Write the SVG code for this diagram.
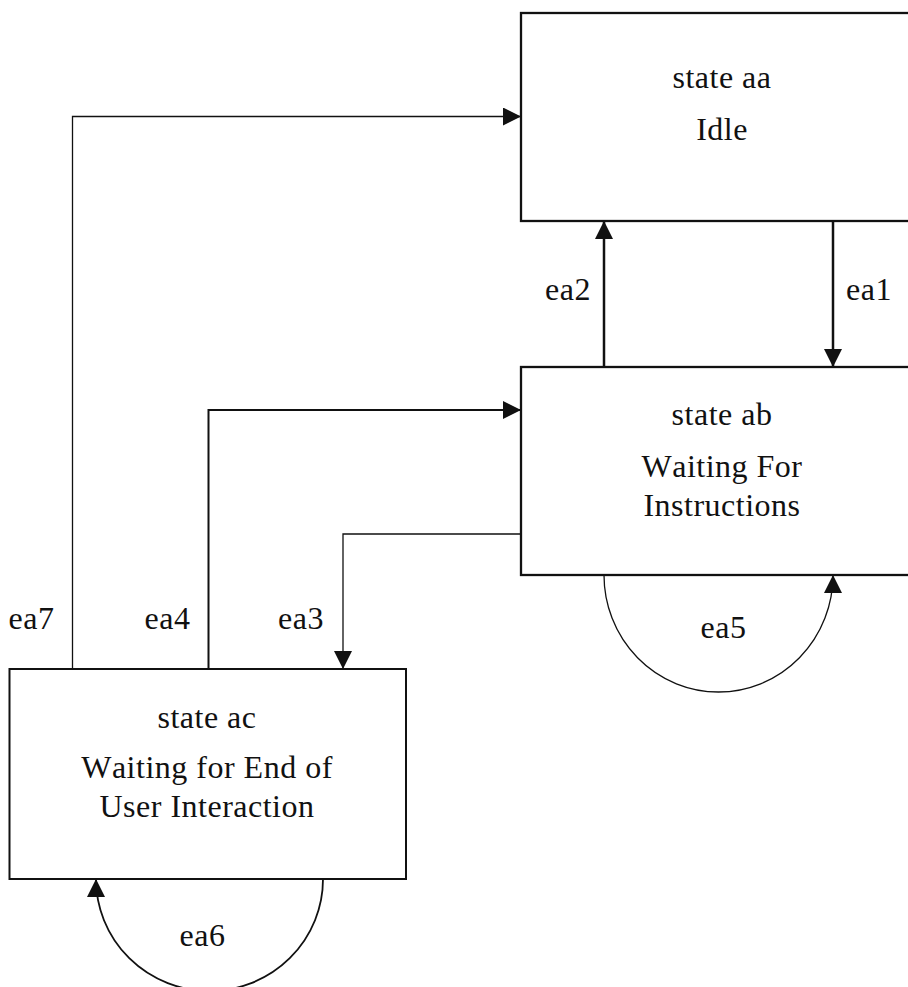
<svg xmlns="http://www.w3.org/2000/svg" width="908" height="987" viewBox="0 0 908 987">
<defs>
<style>
.box{fill:#fff;stroke:#111;}
.t{font-family:"Liberation Serif","Times New Roman",serif;font-size:32px;fill:#111;text-anchor:middle;letter-spacing:0.5px;font-kerning:none;}
.c{fill:none;stroke:#111;}
</style>
<marker id="ah" markerUnits="userSpaceOnUse" markerWidth="18" markerHeight="18" viewBox="0 0 18 18" refX="18" refY="9" orient="auto">
<path d="M0,0 L18,9 L0,18 Z" fill="#111"/>
</marker>
</defs>
<rect width="908" height="987" fill="#fff"/>
<g id="connectors">
<path class="c" stroke-width="1.3" d="M72.5,669 V116.5 H521" marker-end="url(#ah)"/>
<path class="c" stroke-width="2" d="M208.5,669 V410 H521" marker-end="url(#ah)"/>
<path class="c" stroke-width="1.3" d="M521,534 H343 V669" marker-end="url(#ah)"/>
<path class="c" stroke-width="2.5" d="M604,367 V221" marker-end="url(#ah)"/>
<path class="c" stroke-width="2.5" d="M833,221 V367" marker-end="url(#ah)"/>
<path class="c" stroke-width="1.3" d="M604,575 A114.5,117 0 0 0 833,575" marker-end="url(#ah)"/>
<path class="c" stroke-width="1.8" d="M323,879 A113.5,112 0 0 1 96,879" marker-end="url(#ah)"/>
<text class="t" x="31.5" y="629">ea7</text>
<text class="t" x="167.5" y="629">ea4</text>
<text class="t" x="301" y="629">ea3</text>
<text class="t" x="568" y="300">ea2</text>
<text class="t" x="869" y="300">ea1</text>
<text class="t" x="723.5" y="638">ea5</text>
<text class="t" x="202.5" y="946">ea6</text>
</g>
<g id="state-aa">
<rect class="box" stroke-width="2.3" x="521" y="13" width="400" height="208"/>
<text class="t" x="722" y="88">state aa</text>
<text class="t" x="722" y="140">Idle</text>
</g>
<g id="state-ab">
<rect class="box" stroke-width="2.3" x="521" y="367" width="400" height="208"/>
<text class="t" x="722" y="425">state ab</text>
<text class="t" x="722" y="477">Waiting For</text>
<text class="t" x="722" y="516">Instructions</text>
</g>
<g id="state-ac">
<rect class="box" stroke-width="2" x="9.5" y="669" width="396.5" height="210"/>
<text class="t" x="207" y="728">state ac</text>
<text class="t" x="207" y="778">Waiting for End of</text>
<text class="t" x="207" y="817">User Interaction</text>
</g>
</svg>
